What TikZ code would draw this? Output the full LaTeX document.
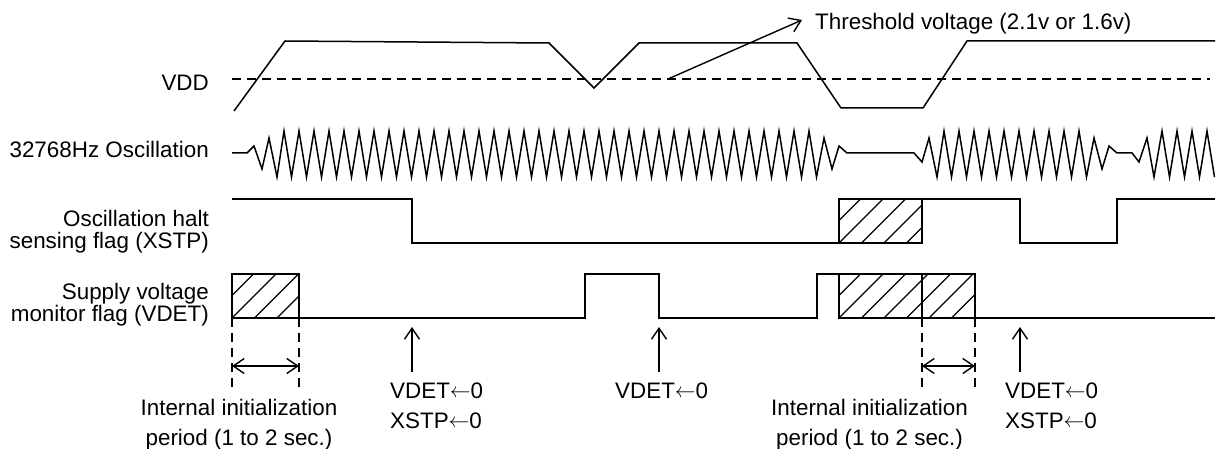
\documentclass[tikz,border=0pt]{standalone}
\usepackage{fontspec}
\setmainfont{Liberation Sans}
\usetikzlibrary{arrows.meta}
\newcommand{\setto}{\raisebox{1pt}{$\leftarrow$}}
\begin{document}
\begin{tikzpicture}[x=1pt,y=-1pt,
  sig/.style={line width=1.5pt, line join=miter},
  hatchline/.style={line width=1.3pt},
  dashline/.style={line width=1.4pt, dash pattern=on 9pt off 6pt},
  lbl/.style={inner sep=0pt, font=\fontsize{22.4}{26}\selectfont},
  barb/.style={line width=1.4pt, -{Straight Barb[length=11pt,width=15pt]}},
  dbarb/.style={line width=1.4pt, {Straight Barb[length=11pt,width=15pt]}-{Straight Barb[length=11pt,width=15pt]}}]
\useasboundingbox (0,0) rectangle (1222,449);

% ---------- left labels ----------
\node[lbl, anchor=base east] (lvdd) at (209,91) {VDD};
\node[lbl, anchor=base east] (losc) at (209,158) {32768Hz Oscillation};
\node[lbl, anchor=base east] (lxstp1) at (209,226) {Oscillation halt};
\node[lbl, anchor=base east] (lxstp2) at (209,248) {sensing flag (XSTP)};
\node[lbl, anchor=base east] (lvdet1) at (209,299) {Supply voltage};
\node[lbl, anchor=base east] (lvdet2) at (209,321) {monitor flag (VDET)};

% ---------- VDD ----------
\draw[dashline] (232,79) -- (1210,79);
\draw[sig] (234,111) -- (285,41) -- (549,43) -- (594,88) -- (639,43) -- (797,43)
  -- (841,108) -- (923,108) -- (967,41) -- (1215,41);
\coordinate (thfrom) at (668,79);
\node[lbl, anchor=base west] (thr) at (815,29.5) {Threshold voltage (2.1v or 1.6v)};
\coordinate (thto) at (802,20);
\draw[barb] (thfrom) -- (thto);

% ---------- oscillation ----------
\draw[sig] (232,153) -- (247,153) -- (254,146) -- (262,169) -- (269,138) -- (277,177)
  \foreach \k in {0,...,35} { -- ({284+15*\k},131) -- ({291.5+15*\k},177) }
  -- (824,138) -- (832,169) -- (839,146) -- (847,153) -- (914,153)
  -- (922,162) -- (929,138) -- (937,177)
  \foreach \k in {0,...,9} { -- ({944+15*\k},131) -- ({951.5+15*\k},177) }
  -- (1094,138) -- (1102,169) -- (1109,146) -- (1117,153) -- (1132,153)
  -- (1139,162) -- (1147,138) -- (1154,177)
  \foreach \k in {0,...,3} { -- ({1162+15*\k},131) -- ({1169.5+15*\k},177) };

% ---------- XSTP ----------
\draw[sig] (232,199) -- (412,199) -- (412,243) -- (839,243);
\begin{scope}
  \clip (839,199) rectangle (922,243);
  \foreach \i in {-2,...,4} \draw[hatchline] ({839+22.5*\i},243) -- ++(60,-60);
\end{scope}
\draw[sig] (839,199) rectangle (922,243);
\draw[sig] (922,199) -- (1020,199) -- (1020,243) -- (1117,243) -- (1117,199) -- (1215,199);

% ---------- VDET ----------
\begin{scope}
  \clip (232,274) rectangle (299,318);
  \foreach \i in {-2,...,3} \draw[hatchline] ({232+22.5*\i},318) -- ++(60,-60);
\end{scope}
\draw[sig] (232,274) rectangle (299,318);
\draw[sig] (299,318) -- (585,318) -- (585,274) -- (659,274) -- (659,318) -- (817,318)
  -- (817,274) -- (839,274);
\begin{scope}
  \clip (839,274) rectangle (975,318);
  \foreach \i in {-2,...,6} \draw[hatchline] ({839+22.5*\i},318) -- ++(60,-60);
\end{scope}
\draw[sig] (839,274) rectangle (975,318);
\draw[sig] (922,274) -- (922,318);
\draw[sig] (975,318) -- (1215,318);

% ---------- initialization periods ----------
\foreach \x/\n in {232/a, 299/b, 922/c, 975/d} {
  \coordinate (t\n) at (\x,318);
  \coordinate (b\n) at (\x,391);
  \draw[dashline] (t\n) -- (b\n);
}
\coordinate (pa) at (232,366); \coordinate (pb) at (299,366);
\coordinate (pc) at (922,366); \coordinate (pd) at (975,366);
\draw[dbarb] (pa) -- (pb);
\draw[dbarb] (pc) -- (pd);
\node[lbl, anchor=base] (init1a) at (239,415) {Internal initialization};
\node[lbl, anchor=base] (init1b) at (239,445) {period (1 to 2 sec.)};
\node[lbl, anchor=base] (init2a) at (869.5,415) {Internal initialization};
\node[lbl, anchor=base] (init2b) at (869.5,445) {period (1 to 2 sec.)};

% ---------- reset arrows ----------
\foreach \x/\n in {412/u, 659/v, 1020/w} {
  \coordinate (s\n) at (\x,372);
  \coordinate (e\n) at (\x,327);
  \draw[barb] (s\n) -- (e\n);
}
\node[lbl, anchor=base west] (r1a) at (390,398) {VDET\setto0};
\node[lbl, anchor=base west] (r1b) at (390,428) {XSTP\setto0};
\node[lbl, anchor=base west] (r2a) at (615,398) {VDET\setto0};
\node[lbl, anchor=base west] (r3a) at (1005,398) {VDET\setto0};
\node[lbl, anchor=base west] (r3b) at (1005,428) {XSTP\setto0};
\end{tikzpicture}
\end{document}
